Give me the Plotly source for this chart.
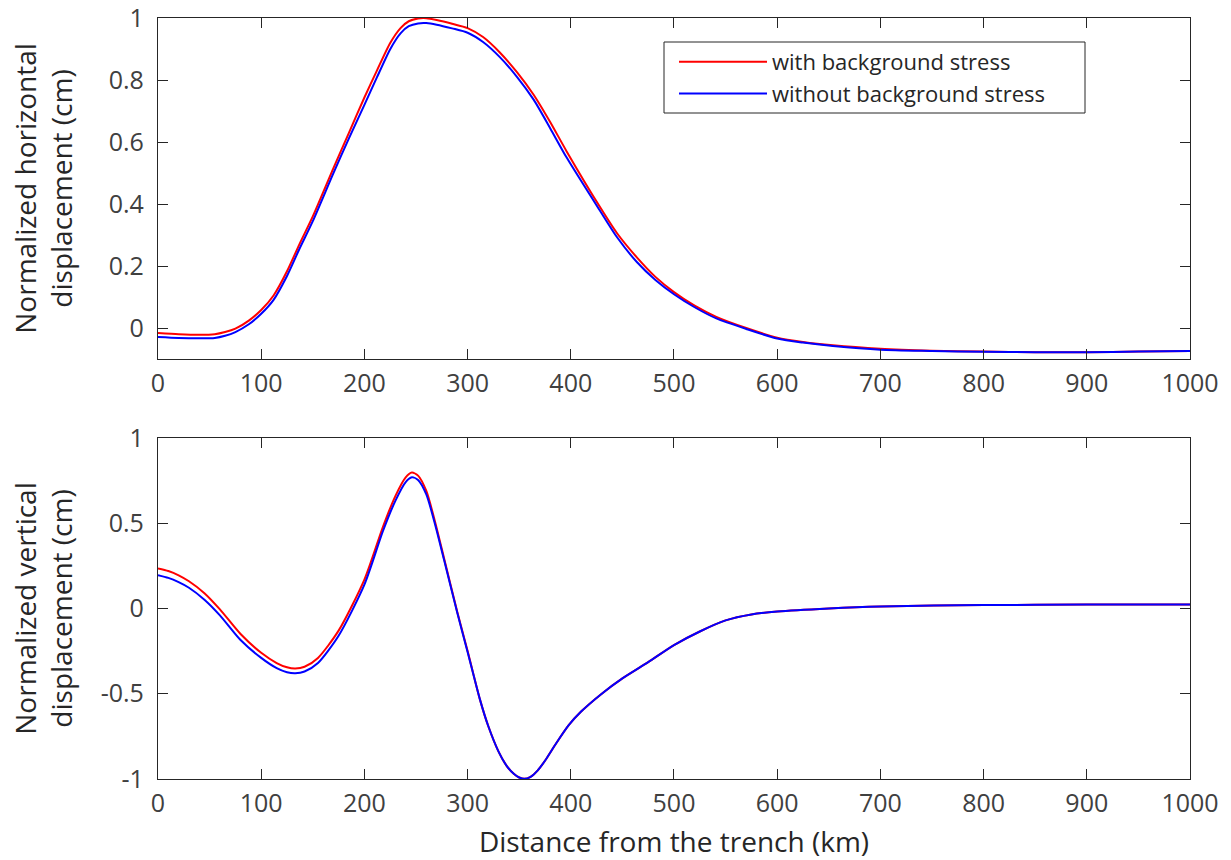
import plotly.graph_objects as go
from plotly.subplots import make_subplots

# ---- Top panel: normalized horizontal displacement ----
x_h = [0, 20, 40, 55, 65, 75, 88, 100, 112, 125, 137, 150, 170, 185, 200, 212, 225, 235, 243, 252,
       260, 270, 285, 300, 315, 331, 348, 364, 380, 396, 428, 445, 464, 482, 500, 520, 541, 570,
       600, 625, 654, 700, 750, 800, 850, 900, 950, 1000]
h_with = [-0.016, -0.020, -0.022, -0.020, -0.013, -0.002, 0.024, 0.058, 0.105, 0.183, 0.270, 0.360,
          0.516, 0.630, 0.744, 0.830, 0.920, 0.968, 0.990, 0.999, 1.000, 0.994, 0.982, 0.968,
          0.939, 0.890, 0.825, 0.753, 0.665, 0.570, 0.392, 0.305, 0.228, 0.165, 0.116, 0.072,
          0.036, 0.000, -0.031, -0.045, -0.056, -0.067, -0.073, -0.076, -0.078, -0.078, -0.076, -0.074]
h_without = [-0.029, -0.032, -0.033, -0.032, -0.025, -0.013, 0.012, 0.046, 0.091, 0.168, 0.255, 0.345,
             0.500, 0.612, 0.720, 0.808, 0.900, 0.951, 0.974, 0.983, 0.984, 0.979, 0.967, 0.953,
             0.923, 0.875, 0.810, 0.737, 0.645, 0.550, 0.380, 0.292, 0.213, 0.155, 0.109, 0.067,
             0.031, -0.003, -0.034, -0.047, -0.058, -0.070, -0.074, -0.077, -0.078, -0.078, -0.076, -0.074]

# ---- Bottom panel: normalized vertical displacement ----
x_v = [0, 10, 20, 30, 45, 60, 80, 100, 115, 125, 133, 142, 155, 175, 200, 218, 230, 240, 246,
       252, 260, 268, 277, 290, 300, 312, 320, 330, 338, 345, 350, 355, 361, 368, 376, 386, 398,
       410, 430, 450, 475, 500, 525, 550, 575, 600, 650, 700, 800, 900, 1000]
v_with = [0.235, 0.220, 0.195, 0.160, 0.090, -0.005, -0.150, -0.260, -0.320, -0.345, -0.352,
          -0.342, -0.290, -0.130, 0.170, 0.480, 0.660, 0.770, 0.798, 0.780, 0.690, 0.520, 0.300,
          -0.020, -0.250, -0.535, -0.690, -0.840, -0.925, -0.972, -0.992, -1.000, -0.988, -0.950,
          -0.885, -0.790, -0.685, -0.605, -0.500, -0.410, -0.315, -0.215, -0.135, -0.070, -0.035,
          -0.018, 0.000, 0.012, 0.020, 0.023, 0.023]
v_without = [0.196, 0.180, 0.155, 0.122, 0.052, -0.040, -0.185, -0.290, -0.350, -0.374, -0.380,
             -0.370, -0.320, -0.160, 0.140, 0.455, 0.632, 0.742, 0.770, 0.755, 0.670, 0.505, 0.290,
             -0.025, -0.255, -0.535, -0.690, -0.840, -0.925, -0.972, -0.992, -1.000, -0.988, -0.950,
             -0.885, -0.790, -0.685, -0.605, -0.500, -0.410, -0.315, -0.215, -0.135, -0.070, -0.035,
             -0.018, 0.000, 0.012, 0.020, 0.023, 0.023]

x_ticks = [0, 100, 200, 300, 400, 500, 600, 700, 800, 900, 1000]
h_ticks = [0, 0.2, 0.4, 0.6, 0.8, 1]
h_ticklabels = ["0", "0.2", "0.4", "0.6", "0.8", "1"]
v_ticks = [-1, -0.5, 0, 0.5, 1]
v_ticklabels = ["-1", "-0.5", "0", "0.5", "1"]

names = ["with background stress", "without background stress"]
RED, BLUE = "#ff0000", "#0000ff"
AX = "#262626"
TICKC = "#404040"
FONT = "Open Sans"

W, H = 1231, 860
PL, PR, PT, PB = 158, 1190, 18, 779          # plot area in page pixels
L, T, R, B = PL, PT, W - PR, H - PB
ph = H - T - B
pw = W - L - R

def py(px):
    return (PB - px) / ph

def pxr(px):
    return (px - PL) / pw

fig = make_subplots(rows=2, cols=1)

spl = dict(width=2, shape="spline", smoothing=0.7)
fig.add_trace(go.Scatter(x=x_h, y=h_with, mode="lines", name=names[0],
                         line=dict(color=RED, **spl)), row=1, col=1)
fig.add_trace(go.Scatter(x=x_h, y=h_without, mode="lines", name=names[1],
                         line=dict(color=BLUE, **spl)), row=1, col=1)
fig.add_trace(go.Scatter(x=x_v, y=v_with, mode="lines", name=names[0], showlegend=False,
                         line=dict(color=RED, **spl)), row=2, col=1)
fig.add_trace(go.Scatter(x=x_v, y=v_without, mode="lines", name=names[1], showlegend=False,
                         line=dict(color=BLUE, **spl)), row=2, col=1)

common_axis = dict(showline=True, linecolor=AX, linewidth=1.3, mirror="ticks",
                   ticks="inside", ticklen=10, tickwidth=1.3, tickcolor=AX,
                   showgrid=False, zeroline=False, ticklabeloverflow="allow",
                   tickfont=dict(family=FONT, size=25, color=TICKC))

TITLE_FONT = dict(family=FONT, size=28, color=AX)

fig.update_xaxes(range=[0, 1000.01], tickvals=x_ticks, domain=[0, 1], ticklabelstandoff=2,
                 **common_axis)
fig.update_xaxes(row=2, col=1,
                 title=dict(text="Distance from the trench (km)", font=TITLE_FONT, standoff=14))

fig.update_yaxes(row=1, col=1, range=[-0.1, 1.0005], tickvals=h_ticks, ticktext=h_ticklabels,
                 domain=[py(359), 1], ticklabelstandoff=8,
                 title=dict(text="Normalized horizontal<br>displacement (cm)",
                            font=TITLE_FONT, standoff=27),
                 **common_axis)
fig.update_yaxes(row=2, col=1, range=[-1.001, 1.001], tickvals=v_ticks, ticktext=v_ticklabels,
                 domain=[0, py(438)], ticklabelstandoff=8,
                 title=dict(text="Normalized vertical<br>displacement (cm)",
                            font=TITLE_FONT, standoff=19),
                 **common_axis)

# legend frame (matches the reference box size)
fig.add_shape(type="rect", xref="paper", yref="paper",
              x0=pxr(664), x1=pxr(1085), y0=py(113), y1=py(42),
              line=dict(color=AX, width=1), fillcolor="white", layer="above")

fig.update_layout(
    width=W, height=H,
    margin=dict(l=L, r=R, t=T, b=B, autoexpand=False),
    paper_bgcolor="white", plot_bgcolor="white",
    font=dict(family=FONT, size=24, color=AX),
    showlegend=True,
    legend=dict(x=pxr(674), y=py(41), xanchor="left", yanchor="top",
                bgcolor="rgba(0,0,0,0)", borderwidth=0,
                font=dict(family=FONT, size=22, color=AX),
                itemwidth=88, tracegroupgap=0),
)

fig.write_html("out.html", config={"displayModeBar": False},
               post_script="document.body.style.margin='0px';")
